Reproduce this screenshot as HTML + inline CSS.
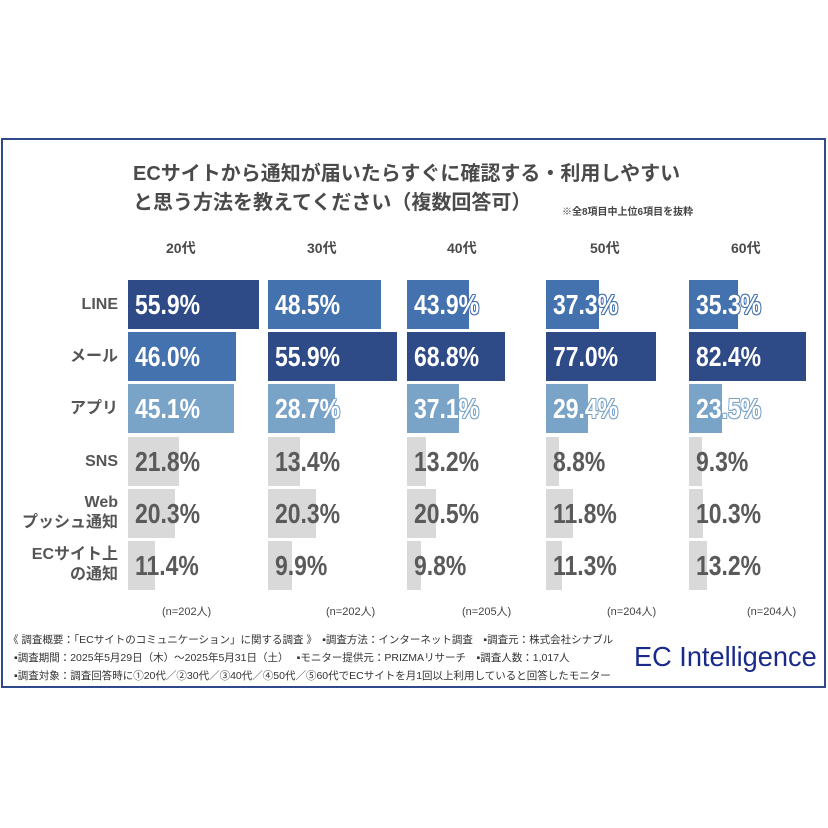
<!DOCTYPE html>
<html><head><meta charset="utf-8"><style>
body{margin:0;width:828px;height:828px;background:#fff;position:relative;overflow:hidden;font-family:"Liberation Sans","Noto Sans CJK JP",sans-serif;}
.frame{position:absolute;left:1px;top:138px;width:821px;height:546px;border:2px solid #2f4a8a;}
.t{position:absolute;color:#4a4a4a;font-weight:bold;white-space:nowrap;}
.bar{position:absolute;height:49px;}
.v{position:absolute;font-family:"Liberation Sans",sans-serif;font-weight:bold;font-size:28px;line-height:49px;white-space:nowrap;transform:scaleX(0.82);transform-origin:0 50%;}
.lab{position:absolute;right:710px;text-align:right;color:#555;font-weight:bold;font-size:16px;line-height:20px;white-space:nowrap;}
.n{position:absolute;top:603px;font-size:11px;color:#444;}
.f{position:absolute;font-size:10.5px;color:#333;white-space:nowrap;}
</style></head><body>
<div class="frame"></div>
<div class="t" style="left:133px;top:157px;font-size:20px;">ECサイトから通知が届いたらすぐに確認する・利用しやすい</div>
<div class="t" style="left:133px;top:186px;font-size:20px;">と思う方法を教えてください（複数回答可）</div>
<div class="t" style="left:562px;top:203px;font-size:10px;color:#444;">※全8項目中上位6項目を抜粋</div>
<div class="t" style="left:166px;top:238px;font-size:14px;">20代</div>
<div class="t" style="left:307px;top:238px;font-size:14px;">30代</div>
<div class="t" style="left:447px;top:238px;font-size:14px;">40代</div>
<div class="t" style="left:590px;top:238px;font-size:14px;">50代</div>
<div class="t" style="left:731px;top:238px;font-size:14px;">60代</div>

<div class="lab" style="top:295px;">LINE</div>
<div class="lab" style="top:347px;">メール</div>
<div class="lab" style="top:399px;">アプリ</div>
<div class="lab" style="top:452px;">SNS</div>
<div class="lab" style="top:493px;">Web<br>プッシュ通知</div>
<div class="lab" style="top:545px;">ECサイト上<br>の通知</div>

<div id="bars"></div>
<script>
var cols={3:"#2e4a87",2:"#4472ae",1:"#7aa3c8",0:"#d9d9d9"};
var tops=[280,332,384,437,489,541];
var data=[
[128,[[259,3,"55.9%"],[236,2,"46.0%"],[234,1,"45.1%"],[179,0,"21.8%"],[175,0,"20.3%"],[155,0,"11.4%"]]],
[268,[[381,2,"48.5%"],[397,3,"55.9%"],[335,1,"28.7%"],[300,0,"13.4%"],[316,0,"20.3%"],[292,0,"9.9%"]]],
[407,[[469,2,"43.9%"],[505,3,"68.8%"],[459,1,"37.1%"],[426,0,"13.2%"],[436,0,"20.5%"],[421,0,"9.8%"]]],
[546,[[599,2,"37.3%"],[656,3,"77.0%"],[588,1,"29.4%"],[559,0,"8.8%"],[573,0,"11.8%"],[562,0,"11.3%"]]],
[689,[[738,2,"35.3%"],[806,3,"82.4%"],[722,1,"23.5%"],[702,0,"9.3%"],[703,0,"10.3%"],[707,0,"13.2%"]]]];
var h="";
data.forEach(function(c){var x=c[0];c[1].forEach(function(b,i){
h+='<div class="bar" style="left:'+x+'px;top:'+tops[i]+'px;width:'+(b[0]-x)+'px;background:'+cols[b[1]]+'"></div>';
var col=b[1]?"#fff":"#5a5a5a";var k=cols[b[1]];
var sh=b[1]?"text-shadow:1px 0 0 "+k+",-1px 0 0 "+k+",0 1px 0 "+k+",0 -1px 0 "+k+",1px 1px 0 "+k+",-1px -1px 0 "+k+",1px -1px 0 "+k+",-1px 1px 0 "+k+";":"";
h+='<div class="v" style="left:'+(x+7)+'px;top:'+tops[i]+'px;color:'+col+';'+sh+'">'+b[2]+'</div>';
});});
document.getElementById("bars").innerHTML=h;
</script>
<div class="n" style="left:162px;">(n=202人)</div>
<div class="n" style="left:326px;">(n=202人)</div>
<div class="n" style="left:462px;">(n=205人)</div>
<div class="n" style="left:607px;">(n=204人)</div>
<div class="n" style="left:747px;">(n=204人)</div>
<div class="f" style="left:8px;top:632px;">《 調査概要：「ECサイトのコミュニケーション」に関する調査 》　▪調査方法：インターネット調査　▪調査元：株式会社シナブル</div>
<div class="f" style="left:14px;top:650px;">▪調査期間：2025年5月29日（木）～2025年5月31日（土）　 ▪モニター提供元：PRIZMAリサーチ　▪調査人数：1,017人</div>
<div class="f" style="left:14px;top:668px;">▪調査対象：調査回答時に①20代／②30代／③40代／④50代／⑤60代でECサイトを月1回以上利用していると回答したモニター</div>
<div style="position:absolute;left:634px;top:641px;font-size:28px;color:#1a2a8a;font-family:'Liberation Sans',sans-serif;white-space:nowrap;transform:scaleX(0.97);transform-origin:0 0;">EC Intelligence</div>
</body></html>
